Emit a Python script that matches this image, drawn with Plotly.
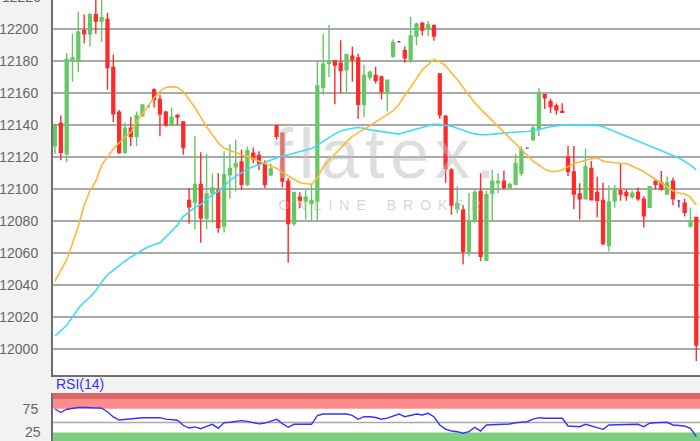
import plotly.graph_objects as go

# ---------------- data ----------------
idx = list(range(111))

opens = [12127, 12141, 12122, 12181, 12180, 12199, 12197, 12209, 12205, 12206,
         12176, 12148, 12123, 12138, 12133, 12146, 12151.6, 12162, 12156, 12148,
         12140, 12146, 12142, 12093, 12092, 12103, 12082, 12097.6, 12099, 12077,
         12109, 12114, 12117, 12103, 12122.5, 12121, 12116, 12109, 12139.6, 12135,
         12105, 12078.5, 12095, 12092.5, 12091, 12092.5, 12163.6, 12178.6, 12180, 12178.6,
         12174.5, 12183, 12182, 12153, 12170, 12171, 12170, 12161, 12183, 12192,
         12186.5, 12181, 12195.6, 12203.5, 12200, 12202, 12172, 12145.4, 12112, 12088,
         12087, 12061, 12080, 12098.6, 12055.6, 12097.6, 12104, 12105, 12101, 12103,
         12110, 12125.6, 12131, 12137.5, 12159, 12154.7, 12152, 12148.5, 12120, 12110.7,
         12097, 12094, 12113, 12098, 12093, 12065, 12092.7, 12099, 12098, 12095.4,
         12098, 12093.7, 12088.6, 12105, 12104, 12097, 12105, 12092.7, 12091.3, 12077,
         12082.4]
highs = [12141, 12146, 12185, 12197, 12211, 12209, 12210, 12222, 12224, 12210,
         12184, 12149.5, 12141.5, 12145, 12148.5, 12153, 12151.6, 12163, 12159, 12149,
         12151, 12147, 12142.5, 12100.7, 12133, 12123, 12122, 12110, 12110, 12123.6,
         12128, 12131, 12124.6, 12126.7, 12126, 12123.6, 12118, 12116, 12140, 12135.5,
         12107, 12098, 12098, 12099.7, 12103, 12180.7, 12197, 12202.5, 12180.5, 12193,
         12184.5, 12189, 12184.5, 12177.6, 12174, 12176.5, 12171, 12168, 12193.6, 12192,
         12189, 12207.7, 12204, 12204.6, 12205, 12203, 12172.5, 12146.4, 12113, 12101.8,
         12090, 12097.6, 12099.7, 12110, 12099, 12112, 12110, 12111.7, 12104, 12122,
         12126.7, 12125.6, 12140, 12163, 12159.5, 12156.5, 12153.5, 12153.6, 12127, 12127,
         12103.7, 12125.4, 12117.6, 12107.8, 12104, 12102.4, 12102.4, 12116, 12100, 12099,
         12101, 12095.5, 12102, 12105.5, 12111.3, 12108, 12107.2, 12092.7, 12094, 12088.6,
         12082.4]
lows = [12122, 12118, 12117, 12167, 12173, 12191, 12189, 12197, 12192, 12162,
        12142, 12122, 12122, 12127, 12127, 12145, 12151.6, 12151, 12133, 12139,
        12140, 12140, 12121.5, 12078.5, 12075, 12066.5, 12075, 12079, 12072.7, 12073,
        12094, 12098.6, 12099.7, 12101.8, 12116, 12112, 12100.7, 12108, 12131, 12101,
        12054, 12077, 12088, 12081, 12080, 12080, 12159, 12170, 12153, 12160,
        12160, 12167, 12144, 12145, 12168, 12166, 12156, 12148.5, 12182, 12192,
        12179, 12179, 12190, 12196, 12195.6, 12192.7, 12144, 12104, 12084, 12085,
        12053, 12058, 12079, 12055, 12055, 12080, 12097.6, 12100, 12100, 12103,
        12108, 12125.6, 12130, 12133, 12150, 12147.5, 12146.4, 12148, 12108, 12087.5,
        12081, 12094, 12093, 12082.4, 12065, 12061, 12088.6, 12092.7, 12092.7, 12094,
        12092.7, 12076, 12088.6, 12100, 12099, 12096.9, 12090, 12088.6, 12083, 12076,
        11992.7]
closes = [12140, 12123, 12181, 12182, 12198, 12197, 12209, 12205, 12207, 12176,
          12147, 12123, 12138, 12133, 12146, 12152.5, 12151.6, 12156, 12147, 12140,
          12145, 12145, 12126, 12089, 12103, 12082, 12097, 12100.7, 12076, 12109,
          12113, 12116, 12103, 12124, 12119, 12116, 12103, 12112.6, 12133, 12105,
          12078.5, 12098, 12093, 12095, 12093, 12164.5, 12178, 12179.6, 12177.5, 12174,
          12184, 12181, 12153, 12171, 12173, 12168, 12161, 12168, 12191.5, 12192,
          12182, 12195.6, 12203, 12199.4, 12202.5, 12195.6, 12146.4, 12113, 12090, 12091,
          12061, 12079.5, 12098, 12058, 12096.6, 12105, 12105, 12101, 12103, 12116,
          12124.6, 12125.6, 12138, 12159.6, 12157, 12151.6, 12149.5, 12148, 12111, 12097,
          12094, 12114, 12093.3, 12093, 12066, 12092, 12099.5, 12097, 12096, 12097.5,
          12094, 12083.4, 12101.6, 12103, 12100, 12104, 12094, 12092.7, 12085.5, 12080,
          12002.6]

doji_idx = [16, 59, 81, 107]

ma_fast = [12042.6, 12049, 12056, 12066, 12077, 12090, 12099, 12105, 12115, 12120,
           12125, 12129, 12132, 12135.5, 12142, 12147, 12152, 12157, 12161, 12163.5,
           12164, 12163.5, 12161, 12156, 12151, 12145, 12139, 12134, 12129, 12125.5,
           12124, 12122.5, 12121.5, 12120.5, 12119, 12117.5, 12116, 12114, 12113, 12110.5,
           12108.5, 12106, 12104, 12103.5, 12103, 12107, 12114, 12118, 12122, 12126,
           12129.5, 12133, 12135, 12137, 12139.5, 12142, 12144, 12146.5, 12149, 12153,
           12158.5, 12163.5, 12169, 12174.5, 12178, 12181, 12179.5, 12177, 12172.5, 12168.5,
           12163.5, 12158.5, 12154, 12150, 12146.4, 12143, 12139, 12135.5, 12132, 12128,
           12124.5, 12121, 12117.5, 12115, 12112.5, 12111, 12111, 12112, 12114, 12116,
           12117, 12118, 12119, 12119.5, 12117.5, 12117, 12116.5, 12116, 12116, 12114.5,
           12113, 12111, 12108.5, 12106, 12103.5, 12101, 12099, 12097.5, 12097, 12095,
           12090]
ma_slow = [12008.3, 12011.5, 12015, 12020, 12025.5, 12029.5, 12032.5, 12036.5, 12042, 12046.5,
           12049.5, 12052.5, 12055, 12057.5, 12060, 12062, 12064, 12065.5, 12066.5, 12070,
           12074, 12077.5, 12083, 12086, 12088.5, 12090.5, 12093.5, 12096.5, 12098.5, 12102,
           12105.5, 12108, 12110.5, 12112.5, 12114, 12115.5, 12117, 12118.5, 12119.5, 12120.5,
           12121.5, 12122.5, 12123.5, 12124.3, 12125.3, 12127.5, 12130, 12132.5, 12134.5, 12136.3,
           12137.3, 12138, 12138.5, 12138, 12137, 12136.5, 12136, 12135.3, 12134.8, 12134.4,
           12135.5, 12136.5, 12137.5, 12138.8, 12139.8, 12140.5, 12140.5, 12140, 12139.3, 12138,
           12136.5, 12135.5, 12134.5, 12134, 12134, 12134.2, 12134.5, 12135, 12135.4, 12135.5,
           12135.8, 12136, 12136.5, 12137.5, 12138.2, 12139, 12139.6, 12139.9, 12140, 12140,
           12140, 12140, 12140, 12139.8, 12139, 12137.5, 12135.7, 12134, 12132.5, 12131.3,
           12130, 12128.5, 12127, 12125.5, 12124, 12122.3, 12121, 12119.6, 12117.5, 12115,
           12112]
rsi = [74.4, 68, 74, 76, 77, 77, 77, 77, 76, 69.5,
       60, 54.5, 55.5, 57, 58.5, 58.7, 58.7, 58.7, 58.7, 56,
       55, 54, 45, 40, 42, 38.8, 43, 46.7, 39.5, 49.6,
       50.5, 51.4, 53.3, 52, 50, 47.5, 49, 52, 55.8, 48,
       41.3, 46.7, 46.7, 46.7, 46.7, 62.3, 65.4, 65.4, 65.4, 65.4,
       65.4, 63, 55.8, 60.5, 60.5, 59, 56, 58, 61.8, 65.4,
       60.5, 63, 65.4, 63.6, 66.6, 60.5, 45.5, 38, 34.6, 33.4,
       30.5, 33.4, 41.3, 34.6, 45.5, 46, 46.5, 47, 47.3, 49.6,
       50.5, 51.4, 56, 58.7, 57.6, 57.6, 57.6, 57.6, 43.7, 43,
       42.4, 46.7, 44, 41.3, 37.7, 45.5, 46, 46.5, 46.7, 46.7,
       46.7, 42.4, 48.6, 49.5, 50, 50.4, 45.5, 44.5, 43.7, 39.5,
       24.3]

price_ticks = [12000, 12020, 12040, 12060, 12080, 12100, 12120, 12140, 12160, 12180, 12200]
top_tick_label = "12220"
rsi_ticks = [25, 75]
rsi_upper, rsi_lower, rsi_mid = 75, 32, 50

# ---------------- styling ----------------
W, H = 700, 441
GREEN = "#64c864"
RED = "#ff2a2a"
DOJI = "#5a32c8"
ORANGE = "#ffb833"
CYAN = "#3cdcfa"
BLUE = "#3333ff"
AXIS = "#6e6e6e"
GRID = "#a9a9a9"
LABEL = "#666666"

x_left_px, x_right_px = 53, 700
main_top_px, main_bot_px = 0, 375
rsi_top_px, rsi_bot_px = 393, 441

px_per_bar = 5.83
x0_px = 55
x_range = [(x_left_px - x0_px) / px_per_bar, (x_right_px - x0_px) / px_per_bar]
px_per_unit = 1.6015
y_ref_px, y_ref_val = 29, 12200
y_range = [y_ref_val - (main_bot_px - y_ref_px) / px_per_unit,
           y_ref_val + (y_ref_px - main_top_px) / px_per_unit]
rsi_px_per_unit = 0.553
rsi_mid_px = 422.5
rsi_range = [rsi_mid - (rsi_bot_px - rsi_mid_px) / rsi_px_per_unit,
             rsi_mid + (rsi_mid_px - rsi_top_px) / rsi_px_per_unit]

is_doji = [i in doji_idx for i in idx]
mo = [None if d else v for d, v in zip(is_doji, opens)]
mh = [None if d else v for d, v in zip(is_doji, highs)]
ml = [None if d else v for d, v in zip(is_doji, lows)]
mc = [None if d else v for d, v in zip(is_doji, closes)]
do = [v if d else None for d, v in zip(is_doji, opens)]
dh = [v if d else None for d, v in zip(is_doji, highs)]
dl = [v if d else None for d, v in zip(is_doji, lows)]
dc = [v if d else None for d, v in zip(is_doji, closes)]

fig = go.Figure()

# watermark (drawn under the candles)
hs = "\u200a"
fig.add_trace(go.Scatter(
    x=[56.5], y=[12118], mode="text", text=[hs.join("flatex.")],
    textfont=dict(family="Liberation Sans", size=70, color="rgba(190,190,190,0.5)"),
    hoverinfo="skip", showlegend=False, xaxis="x", yaxis="y"))
fig.add_trace(go.Scatter(
    x=[55.7], y=[12089], mode="text",
    text=["O\u2002N\u2002L\u2002I\u2002N\u2002E\u2003\u2002B\u2002R\u2002O\u2002K\u2002E\u2002R"],
    textfont=dict(family="Liberation Sans", size=14, color="rgba(185,185,185,0.6)"),
    hoverinfo="skip", showlegend=False, xaxis="x", yaxis="y"))

fig.add_trace(go.Scatter(x=idx, y=ma_slow, mode="lines",
                         line=dict(color=CYAN, width=1.6), hoverinfo="skip",
                         showlegend=False, xaxis="x", yaxis="y"))
fig.add_trace(go.Scatter(x=idx, y=ma_fast, mode="lines",
                         line=dict(color=ORANGE, width=1.6), hoverinfo="skip",
                         showlegend=False, xaxis="x", yaxis="y"))

fig.add_trace(go.Candlestick(
    x=idx, open=mo, high=mh, low=ml, close=mc,
    increasing=dict(line=dict(color=GREEN, width=1.4), fillcolor=GREEN),
    decreasing=dict(line=dict(color=RED, width=1.4), fillcolor=RED),
    whiskerwidth=0, showlegend=False, xaxis="x", yaxis="y"))
fig.add_trace(go.Candlestick(
    x=idx, open=do, high=dh, low=dl, close=dc,
    increasing=dict(line=dict(color=DOJI, width=1.4), fillcolor=DOJI),
    decreasing=dict(line=dict(color=DOJI, width=1.4), fillcolor=DOJI),
    whiskerwidth=0, showlegend=False, xaxis="x", yaxis="y"))

fig.add_trace(go.Scatter(x=idx, y=rsi, mode="lines",
                         line=dict(color=BLUE, width=1.4), hoverinfo="skip",
                         showlegend=False, xaxis="x2", yaxis="y2"))

dom_x = [x_left_px / W, x_right_px / W]
dom_main = [(H - main_bot_px) / H, (H - main_top_px) / H]
dom_rsi = [(H - rsi_bot_px) / H, (H - rsi_top_px) / H]

shapes = [
    # RSI zones
    dict(type="rect", xref="x2 domain", yref="y2", x0=0, x1=1,
         y0=rsi_upper, y1=rsi_range[1], fillcolor="#ff8c8c", line=dict(width=0), layer="below"),
    dict(type="rect", xref="x2 domain", yref="y2 domain", x0=0, x1=1,
         y0=1 - 6 / (rsi_bot_px - rsi_top_px), y1=1, fillcolor="#e06666", line=dict(width=0), layer="below"),
    dict(type="rect", xref="x2 domain", yref="y2", x0=0, x1=1,
         y0=rsi_range[0], y1=rsi_lower, fillcolor="#7ccf7c", line=dict(width=0), layer="below"),
    dict(type="line", xref="x2 domain", yref="y2", x0=0, x1=1,
         y0=rsi_mid, y1=rsi_mid, line=dict(color=GRID, width=1.5), layer="below"),
]

annotations = [
    dict(text=top_tick_label, xref="paper", yref="paper",
         x=(x_left_px - 10) / W, y=(H - (y_ref_px - 20 * px_per_unit)) / H,
         xanchor="right", yanchor="middle", showarrow=False,
         font=dict(family="Liberation Sans", size=14, color=LABEL)),
    dict(text=str(rsi_ticks[0]), xref="paper", yref="paper",
         x=(x_left_px - 10) / W, y=-1 / H, xanchor="right", yanchor="bottom",
         showarrow=False, font=dict(family="Liberation Sans", size=14, color=LABEL)),
    dict(text="RSI(14)", xref="paper", yref="paper",
         x=(x_left_px + 1) / W, y=(H - 384) / H, xanchor="left", yanchor="middle",
         showarrow=False, font=dict(family="Liberation Sans", size=14, color=BLUE)),
]

fig.update_layout(
    width=W, height=H, margin=dict(l=0, r=0, t=0, b=0),
    paper_bgcolor="#f2f2f2", plot_bgcolor="white",
    showlegend=False, boxgap=0.3,
    font=dict(family="Liberation Sans", size=14, color=LABEL),
    xaxis=dict(domain=dom_x, range=x_range, showticklabels=False, showgrid=False,
               zeroline=False, showline=True, linecolor=AXIS, linewidth=2,
               rangeslider=dict(visible=False), anchor="y", fixedrange=True),
    yaxis=dict(domain=dom_main, range=y_range, tickvals=price_ticks,
               ticktext=[str(v) for v in price_ticks], showgrid=True, gridcolor=GRID,
               gridwidth=1.5, zeroline=False, showline=True, linecolor=AXIS, linewidth=2,
               ticks="", ticklabelstandoff=10, anchor="x",
               tickfont=dict(family="Liberation Sans", size=14, color=LABEL)),
    xaxis2=dict(domain=dom_x, range=x_range, showticklabels=False, showgrid=False,
                zeroline=False, showline=False, rangeslider=dict(visible=False),
                anchor="y2"),
    yaxis2=dict(domain=dom_rsi, range=rsi_range, tickvals=rsi_ticks[1:],
                ticktext=[str(v) for v in rsi_ticks[1:]], showgrid=False, zeroline=False,
                showline=True, linecolor=AXIS, linewidth=2, ticks="",
                ticklabelstandoff=10, anchor="x2",
                tickfont=dict(family="Liberation Sans", size=14, color=LABEL)),
    shapes=shapes, annotations=annotations,
)

fig.write_html("out.html", config={"displayModeBar": False},
               post_script="document.body.style.margin='0';document.body.style.overflow='hidden';")
